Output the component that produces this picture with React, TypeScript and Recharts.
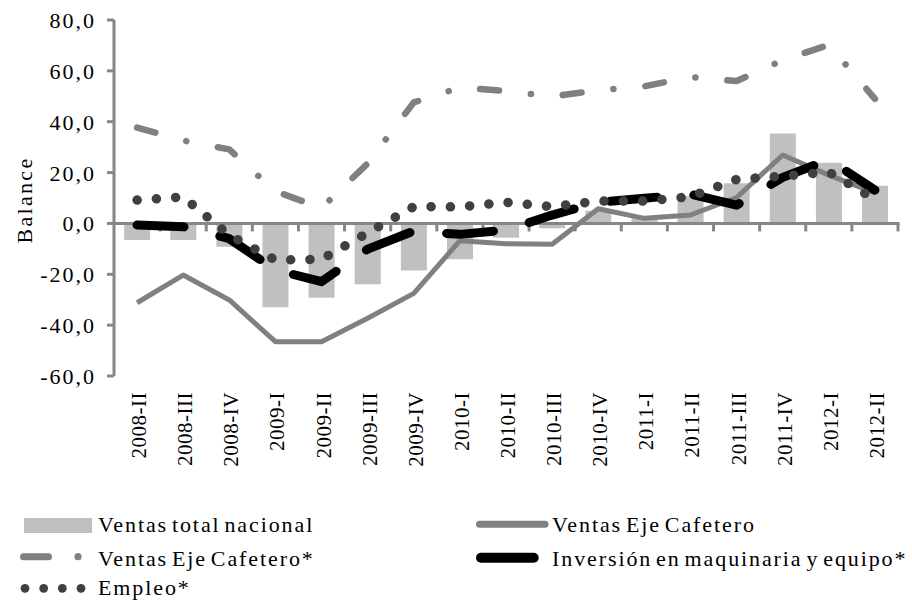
import React from 'react';
import { ComposedChart, Bar, Line, XAxis, YAxis, ReferenceLine, Legend } from 'recharts';

const categories = ['2008-II', '2008-III', '2008-IV', '2009-I', '2009-II', '2009-III', '2009-IV', '2010-I', '2010-II', '2010-III', '2010-IV', '2011-I', '2011-II', '2011-III', '2011-IV', '2012-I', '2012-II'];
const ventasTotalNacional = [-6.5, -6.5, -9.2, -33.0, -29.2, -23.9, -18.5, -14.1, -5.6, -1.9, 5.0, 2.0, 10.8, 15.8, 35.4, 23.9, 14.8];
const ventasEjeCafetero = [-31.2, -20.3, -30.1, -46.5, -46.5, -37.3, -27.5, -6.8, -8.0, -8.2, 5.8, 2.0, 3.3, 10.2, 26.9, 19.0, 12.0];
const ventasEjeCafeteroEst = [37.7, 32.6, 29.1, 12.6, 6.1, 23.6, 47.6, 53.4, 52.1, 49.9, 52.4, 53.9, 57.6, 56.0, 64.2, 70.2, 49.0];
const inversionMaquinaria = [-0.6, -1.3, -6.0, -18.3, -22.9, -10.1, -3.0, -4.3, -2.6, 3.3, 8.3, 9.9, 11.5, 7.2, 18.1, 25.0, 13.1];
const empleo = [9.2, 10.4, -4.6, -14.4, -14.1, -3.7, 6.6, 6.5, 8.3, 6.6, 8.8, 8.8, 10.5, 17.3, 18.6, 20.2, 9.5];
const yTicks = [-60, -40, -20, 0, 20, 40, 60, 80];

const NAME_TOTAL = 'Ventas total nacional';
const NAME_EJE = 'Ventas Eje Cafetero';
const NAME_EJE_EST = 'Ventas Eje Cafetero*';
const NAME_INV = 'Inversión en maquinaria y equipo*';
const NAME_EMP = 'Empleo*';
const AXIS_TITLE = 'Balance';

const data = categories.map((c, i) => ({
  periodo: c,
  total: ventasTotalNacional[i],
  eje: ventasEjeCafetero[i],
  ejeEst: ventasEjeCafeteroEst[i],
  inv: inversionMaquinaria[i],
  emp: empleo[i],
}));

const FONT = '"Liberation Serif", "Times New Roman", Times, serif';
const AXIS_COLOR = '#868686';
const BAR_COLOR = '#c0c0c0';
const GRAY_LINE = '#808080';
const DOT_COLOR = '#404040';

const fmt = (v: number) => v.toFixed(1).replace('.', ',');

const YTick = (props: any) => {
  const { x, y, payload } = props;
  return (
    <text x={x} y={y} dy={8} textAnchor="end" fontFamily={FONT} fontSize={22} letterSpacing={2} fill="#000">
      {fmt(payload.value)}
    </text>
  );
};

const XTick = (props: any) => {
  const { x, y, payload } = props;
  return (
    <g transform={`translate(${x},${y + 16}) rotate(-90)`}>
      <text x={0} y={0} dy={9} textAnchor="end" fontFamily={FONT} fontSize={21} letterSpacing={0.5} fill="#000">
        {payload.value}
      </text>
    </g>
  );
};

const ZeroAxis = (p: any) => {
  const n = categories.length;
  const band = (p.x2 - p.x1) / n;
  const ticks = [];
  for (let k = 1; k <= n; k++) {
    const tx = p.x1 + band * k;
    ticks.push(<line key={k} x1={tx} x2={tx} y1={p.y1} y2={p.y1 + 8} stroke={AXIS_COLOR} strokeWidth={3} />);
  }
  return (
    <g>
      <line x1={p.x1} x2={p.x2 + 1.5} y1={p.y1} y2={p.y2} stroke={AXIS_COLOR} strokeWidth={3} />
      {ticks}
    </g>
  );
};

const BalanceLabel = () => (
  <text
    transform="translate(31.5,200) rotate(-90)"
    textAnchor="middle"
    fontFamily={FONT}
    fontSize={22}
    letterSpacing={2.3}
    fill="#000"
  >
    {AXIS_TITLE}
  </text>
);

const LegendContent = () => {
  const t = {
    fontFamily: FONT,
    fontSize: 22,
    fill: '#000',
    style: { letterSpacing: '1.9px', wordSpacing: '-3.5px' },
  } as any;
  return (
    <svg width={912} height={113} style={{ display: 'block' }}>
      <rect x={24} y={23} width={68} height={15} fill={BAR_COLOR} />
      <text x={98} y={37} {...t}>{NAME_TOTAL}</text>

      <line x1={23.5} x2={48.5} y1={61.7} y2={61.7} stroke={GRAY_LINE} strokeWidth={7} strokeLinecap="round" />
      <circle cx={78} cy={61.7} r={3.6} fill={GRAY_LINE} />
      <text x={98} y={70.5} {...t}>{NAME_EJE_EST}</text>

      {[25, 43.7, 62.3, 81].map((cx) => (
        <circle key={cx} cx={cx} cy={93.3} r={4.4} fill={DOT_COLOR} />
      ))}
      <text x={98} y={100} {...t}>{NAME_EMP}</text>

      <line x1={479.5} x2={545} y1={29.3} y2={29.3} stroke={GRAY_LINE} strokeWidth={7} strokeLinecap="round" />
      <text x={552} y={37} {...t}>{NAME_EJE}</text>

      <line x1={481} x2={533.7} y1={62.7} y2={62.7} stroke="#000" strokeWidth={10} strokeLinecap="round" />
      <text x={552} y={70.5} {...t}>{NAME_INV}</text>
    </svg>
  );
};

export default function App() {
  return (
    <div style={{ position: 'absolute', left: 0, top: 0, width: 912, height: 608, background: '#fff' }}>
      <ComposedChart
        width={912}
        height={608}
        data={data}
        margin={{ top: 20, right: 14, bottom: 0, left: 0 }}
        barCategoryGap="22%"
      >
        <XAxis
          dataKey="periodo"
          interval={0}
          axisLine={false}
          tickLine={false}
          tickSize={0}
          tickMargin={0}
          height={232}
          tick={<XTick />}
        />
        <YAxis
          width={114}
          domain={[-60, 80]}
          ticks={yTicks}
          allowDataOverflow
          axisLine={{ stroke: AXIS_COLOR, strokeWidth: 3 }}
          tickLine={{ stroke: AXIS_COLOR, strokeWidth: 3 }}
          tickSize={7}
          tickMargin={11}
          tick={<YTick />}
          label={<BalanceLabel />}
        />
        <Bar dataKey="total" name={NAME_TOTAL} fill={BAR_COLOR} isAnimationActive={false} />
        <ReferenceLine y={0} shape={ZeroAxis} />
        <Line
          type="linear"
          dataKey="eje"
          name={NAME_EJE}
          stroke={GRAY_LINE}
          strokeWidth={5}
          strokeLinejoin="round"
          dot={false}
          activeDot={false}
          isAnimationActive={false}
        />
        <Line
          type="linear"
          dataKey="ejeEst"
          name={NAME_EJE_EST}
          stroke={GRAY_LINE}
          strokeWidth={6.5}
          strokeLinecap="round"
          strokeLinejoin="round"
          strokeDasharray="19 32 0.1 32"
          dot={false}
          activeDot={false}
          isAnimationActive={false}
        />
        <Line
          type="linear"
          dataKey="inv"
          name={NAME_INV}
          stroke="#000"
          strokeWidth={9}
          strokeLinecap="round"
          strokeLinejoin="round"
          strokeDasharray="47 37"
          dot={false}
          activeDot={false}
          isAnimationActive={false}
        />
        <Line
          type="linear"
          dataKey="emp"
          name={NAME_EMP}
          stroke={DOT_COLOR}
          strokeWidth={9.5}
          strokeLinecap="round"
          strokeDasharray="0.1 19.2"
          dot={false}
          activeDot={false}
          isAnimationActive={false}
        />
        <Legend
          layout="horizontal"
          verticalAlign="middle"
          align="center"
          wrapperStyle={{ top: 495, left: 0, width: 912, height: 113 }}
          content={<LegendContent />}
        />
      </ComposedChart>
    </div>
  );
}
